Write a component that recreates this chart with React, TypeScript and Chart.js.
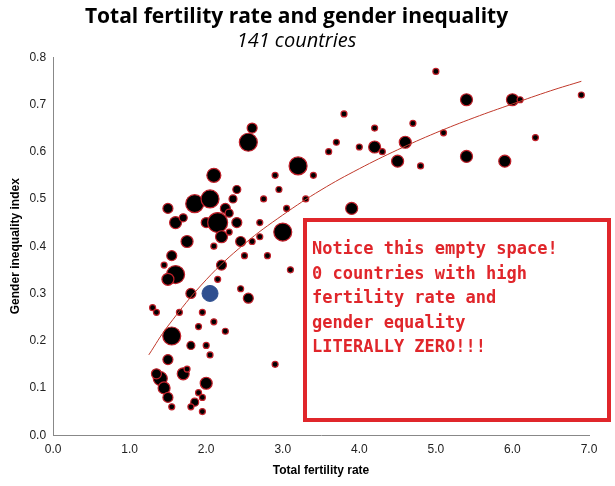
import React, { useEffect, useRef } from "react";
import { Chart, registerables } from "chart.js";
Chart.register(...registerables);

const fertility = [1.4,1.45,1.35,1.5,1.55,1.5,1.6,1.5,1.55,1.6,1.5,1.7,1.75,1.8,1.7,1.8,1.85,1.9,1.95,2.0,2.0,1.9,1.85,2.0,2.05,2.1,2.15,2.2,2.25,2.3,2.35,2.2,2.4,2.45,2.55,2.6,2.55,2.4,2.3,2.1,2.7,2.75,2.8,2.9,2.95,3.0,3.05,3.2,3.1,3.3,3.4,3.6,3.7,3.8,3.9,4.0,4.2,4.2,4.3,4.5,4.6,4.7,4.8,5.0,5.1,5.4,5.4,5.9,6.0,6.1,6.3,6.9,2.9,1.3,1.35,1.45,1.65,1.95,2.15,2.25,2.05,1.75,1.55,2.45,2.6,2.7,2.5,2.1,1.8,1.95];
const inequality = [0.12,0.10,0.13,0.08,0.21,0.16,0.34,0.33,0.38,0.45,0.48,0.46,0.41,0.30,0.13,0.19,0.07,0.09,0.05,0.11,0.19,0.23,0.49,0.45,0.50,0.55,0.45,0.42,0.48,0.47,0.50,0.36,0.45,0.41,0.62,0.65,0.29,0.52,0.43,0.40,0.45,0.50,0.38,0.55,0.52,0.43,0.48,0.57,0.35,0.50,0.55,0.60,0.62,0.68,0.48,0.61,0.61,0.65,0.60,0.58,0.62,0.66,0.57,0.77,0.64,0.71,0.59,0.58,0.71,0.71,0.63,0.72,0.15,0.27,0.26,0.36,0.26,0.26,0.33,0.22,0.17,0.14,0.06,0.31,0.41,0.42,0.38,0.24,0.06,0.08];
const sizes = [7,6,5,5,9,5,9,6,5,6,5,4,6,5,6,4,4,3,3,6,3,3,9,5,9,7,10,6,5,4,4,5,5,5,9,5,5,4,3,3,3,3,3,3,3,9,3,9,3,3,3,3,3,3,6,3,6,3,3,6,6,3,3,3,3,6,6,6,6,3,3,3,3,3,3,3,3,3,3,3,3,3,3,3,3,3,3,3,3,3];
const highlightX = [2.05];
const highlightY = [0.30];
const trendX = [1.25,1.5,2,2.5,3,3.5,4,4.5,5,5.5,6,6.5,6.9];
const trendY = [0.170,0.231,0.329,0.405,0.466,0.519,0.564,0.604,0.640,0.672,0.701,0.729,0.749];
const xTicks = ["0.0","1.0","2.0","3.0","4.0","5.0","6.0","7.0"];
const noteLines = ["Notice this empty space!","0 countries with high","fertility rate and","gender equality","LITERALLY ZERO!!!"];

const boxPlugin = {
  id: "note",
  afterDraw(chart: any) {
    const ctx = chart.ctx;
    ctx.save();
    ctx.fillStyle = "#fff";
    ctx.fillRect(305, 220, 304, 200);
    ctx.strokeStyle = "#e0262b";
    ctx.lineWidth = 4;
    ctx.strokeRect(305, 220, 304, 200);
    ctx.font = "bold 17px 'DejaVu Sans Mono', 'Liberation Mono', monospace";
    ctx.textBaseline = "middle";
    ctx.fillStyle = "#e0262b";
    noteLines.forEach((t, i) => ctx.fillText(t, 312, 250 + i * 24.5));
    ctx.restore();
  },
};

export default function App() {
  const ref = useRef<HTMLCanvasElement>(null);
  useEffect(() => {
    document.body.style.margin = "0";
    const chart = new Chart(ref.current!, {
      type: "scatter",
      data: {
        datasets: [
          {
            type: "line",
            data: trendX.map((x, i) => ({ x, y: trendY[i] })),
            borderColor: "#c0392b",
            borderWidth: 1,
            pointRadius: 0,
            tension: 0.4,
          } as any,
          {
            data: fertility.map((x, i) => ({ x, y: inequality[i] })),
            pointRadius: sizes,
            backgroundColor: "#000",
            borderColor: "#c0202a",
            borderWidth: 1.2,
          },
          {
            data: highlightX.map((x, i) => ({ x, y: highlightY[i] })),
            pointRadius: 8,
            backgroundColor: "#2f4f8f",
            borderColor: "#2f4f8f",
          },
        ],
      },
      options: {
        animation: false,
        responsive: false,
        layout: { padding: { left: 4, right: 26, top: 0, bottom: 4 } },
        plugins: {
          legend: { display: false },
          tooltip: { enabled: false },
          title: {
            display: true,
            text: "Total fertility rate and gender inequality",
            color: "#000",
            font: { size: 21, weight: "bold", family: "'Open Sans', sans-serif" },
            padding: { top: 4, bottom: 0 },
          },
          subtitle: {
            display: true,
            text: "141 countries",
            color: "#000",
            font: { size: 20, style: "italic", family: "'Open Sans', sans-serif" },
            padding: { top: 0, bottom: 4 },
          },
        },
        scales: {
          x: {
            min: 0, max: 7,
            grid: { display: false, drawTicks: true, tickLength: 4, color: "#888" },
            border: { color: "#888" },
            ticks: { stepSize: 1, color: "#222", font: { size: 12, family: "Arial, 'Liberation Sans'" }, callback: (v: any) => xTicks[Math.round(v)] },
            title: { display: true, text: "Total fertility rate", color: "#000", font: { size: 12, weight: "bold", family: "Arial, 'Liberation Sans'" } },
          },
          y: {
            min: 0, max: 0.8,
            grid: { display: false, tickLength: 4, color: "#888" },
            border: { color: "#888" },
            ticks: { stepSize: 0.1, color: "#222", font: { size: 12, family: "Arial, 'Liberation Sans'" }, callback: (v: any) => Number(v).toFixed(1) },
            title: { display: true, text: "Gender inequality index", color: "#000", font: { size: 12, weight: "bold", family: "Arial, 'Liberation Sans'" } },
          },
        },
      },
      plugins: [boxPlugin],
    });
    return () => chart.destroy();
  }, []);
  return <canvas ref={ref} width={615} height={486} />;
}
